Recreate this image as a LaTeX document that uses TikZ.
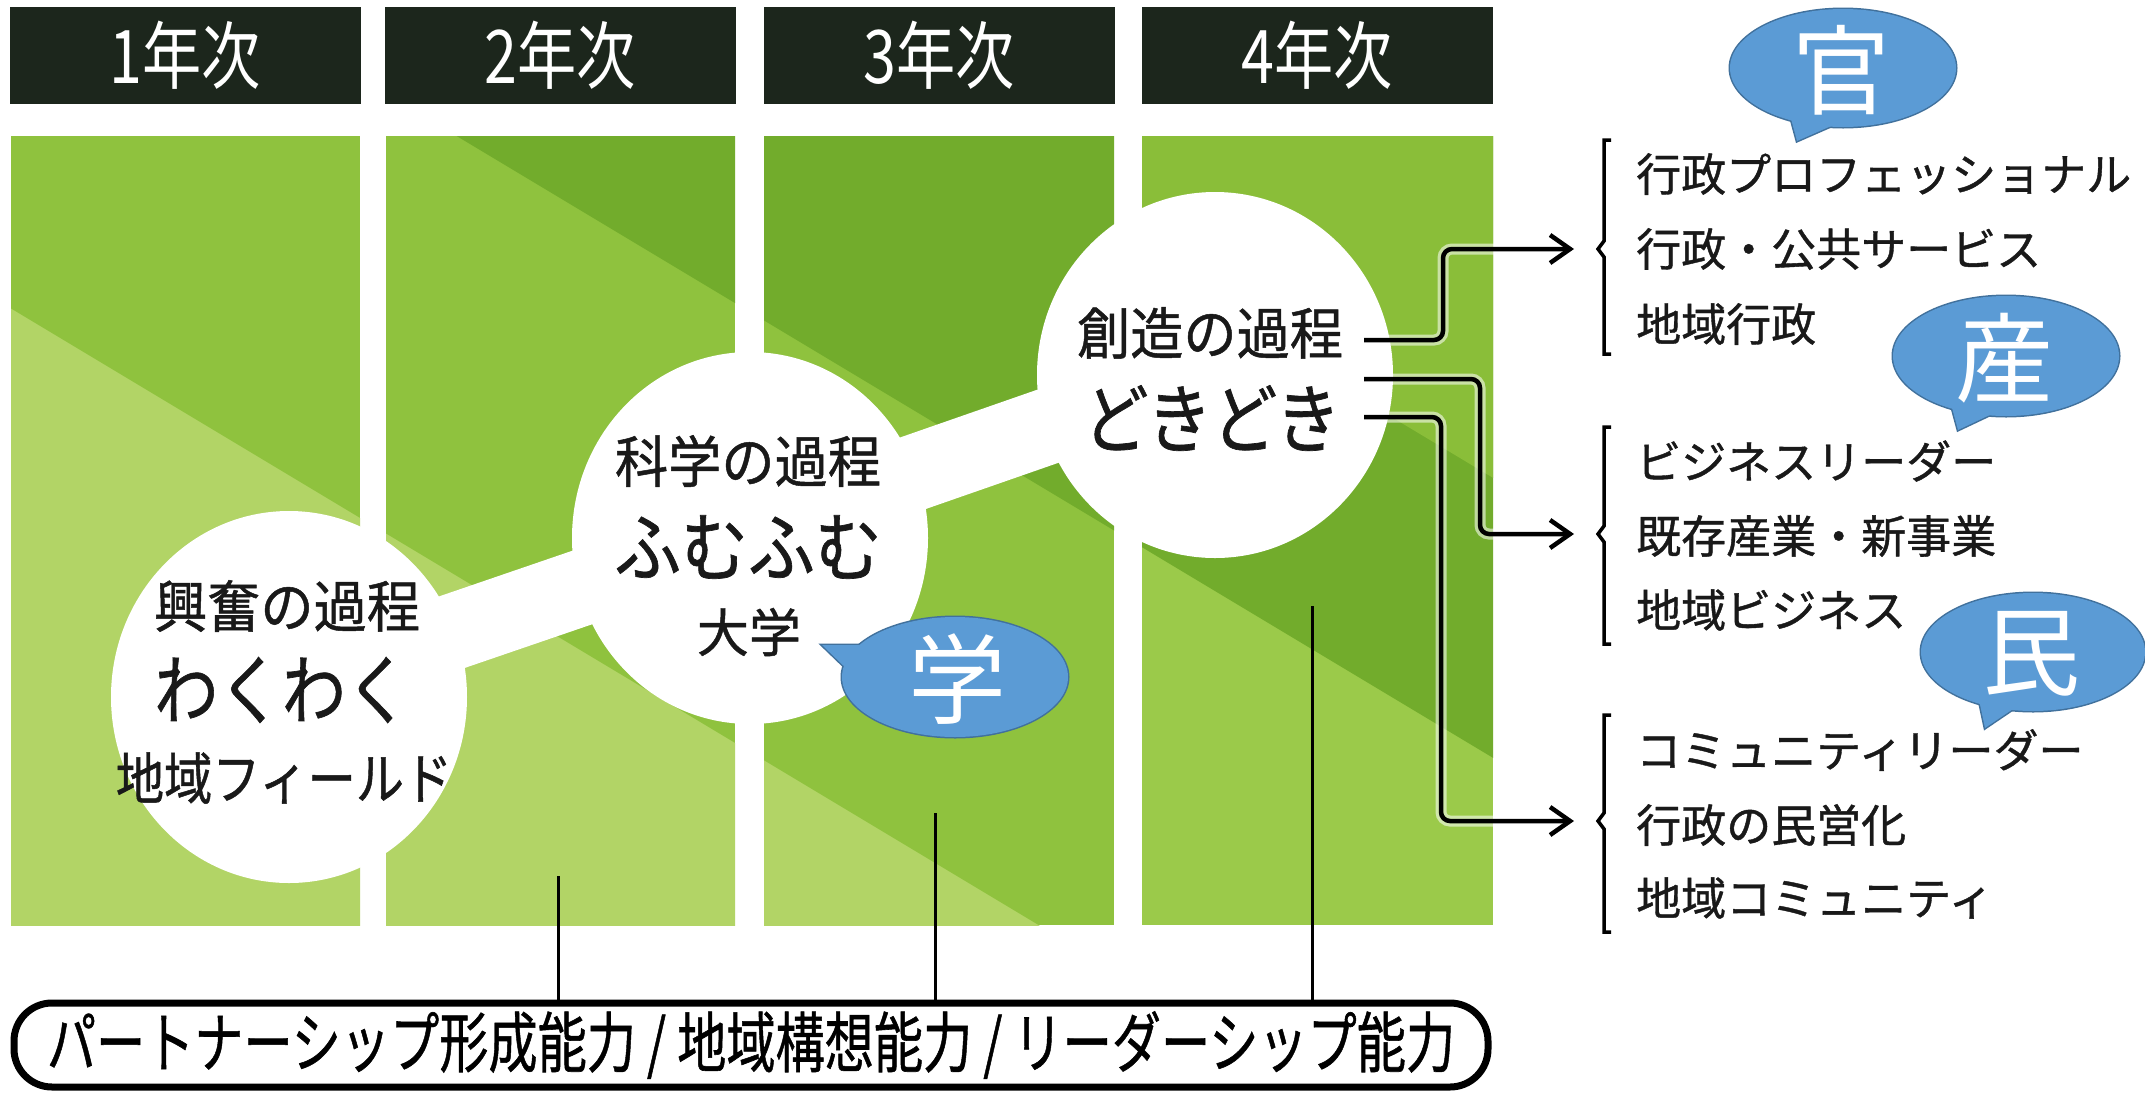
\documentclass[tikz,border=0pt]{standalone}
\usepackage{fontspec}
\usepackage{graphicx}
\newfontfamily\jp{Noto Sans CJK JP}
\newfontfamily\jpm[FakeBold=0.9]{Noto Sans CJK JP}
\usetikzlibrary{arrows.meta,shapes.geometric}
\definecolor{tL}{HTML}{B2D466}
\definecolor{tM}{HTML}{8FC23E}
\definecolor{tD}{HTML}{72AC2C}
\definecolor{pfT}{HTML}{8ABE39}
\definecolor{pfB}{HTML}{9BCA4A}
\definecolor{hdr}{HTML}{1C261C}
\definecolor{bbl}{HTML}{5B9BD5}
\definecolor{bbd}{HTML}{41719C}
\tikzset{
  hdrbox/.style={fill=hdr, minimum width=351, minimum height=97, inner sep=0, text=white,
     font=\jp\fontsize{74}{76}\selectfont},
  bubbg/.style={draw=bbd, line width=3},
  bubtxt/.style={text=white, inner sep=0, font=\jp\fontsize{98}{100}\selectfont},
  circ/.style={ellipse, fill=white, minimum width=356, minimum height=372, inner sep=0},
  head/.style={inner sep=0, text=black!90, font=\jpm\fontsize{56}{58}\selectfont},
  big/.style={inner sep=0, text=black!90, font=\jpm\fontsize{76}{78}\selectfont},
  lst/.style={inner sep=0, anchor=west, text=black!90, font=\jpm\fontsize{45}{47}\selectfont},
  conn/.style={line width=4.5, rounded corners=9, -{Straight Barb[length=20pt,width=28pt]}},
  halo/.style={line width=11, white, opacity=0.55, rounded corners=9},
  brk/.style={line width=3.5},
  vline/.style={line width=3},
}
\begin{document}
\begin{tikzpicture}[x=1pt,y=-1pt]
\useasboundingbox (0,0) rectangle (2145,1096);
\fill[white] (0,0) rectangle (2145,1096);

% ---------- header boxes ----------
\node[hdrbox] (h1) at (185.5,55) {\scalebox{0.8}[1]{1年次}};
\node[hdrbox] (h2) at (560.5,55) {\scalebox{0.8}[1]{2年次}};
\node[hdrbox] (h3) at (939,55) {\scalebox{0.8}[1]{3年次}};
\node[hdrbox] (h4) at (1317.5,55) {\scalebox{0.8}[1]{4年次}};

% ---------- panels ----------
\begin{scope}
  \clip (11,136) rectangle (360,925);
  \fill[tM] (11,136) rectangle (360,925);
  \fill[tL] (0,302) -- (2145,1589) -- (2145,1700) -- (0,1700) -- cycle;
\end{scope}
\begin{scope}
  \clip (386,136) rectangle (735,925);
  \fill[tM] (386,136) rectangle (735,925);
  \fill[tD] (0,-138) -- (2145,1149) -- (2145,-300) -- (0,-300) -- cycle;
  \fill[tL] (0,302) -- (2145,1589) -- (2145,1700) -- (0,1700) -- cycle;
\end{scope}
\begin{scope}
  \clip (764,136) rectangle (1114,925);
  \fill[tM] (764,136) rectangle (1114,925);
  \fill[tD] (0,-138) -- (2145,1149) -- (2145,-300) -- (0,-300) -- cycle;
  \fill[tL] (0,302) -- (2145,1589) -- (2145,1700) -- (0,1700) -- cycle;
\end{scope}
\begin{scope}
  \clip (1142,136) rectangle (1493,925);
  \fill[pfB] (1142,136) rectangle (1493,925);
  \fill[tD] (0,-138) -- (2145,1149) -- (2145,-600) -- (0,-600) -- cycle;
  \fill[pfT] (0,-418) -- (2145,869) -- (2145,-600) -- (0,-600) -- cycle;
\end{scope}

% ---------- white path with circles ----------
\coordinate (b1) at (289,688);
\coordinate (b2) at (750,530);
\coordinate (b3) at (1215,368);
\draw[white, line width=76] (b1) -- (b2) -- (b3);
\node[circ] (c1) at (289,697) {};
\node[circ] (c2) at (750,538) {};
\node[circ, minimum height=366] (c3) at (1215,375) {};

\node[head] (t1a) at (287,606) {\scalebox{0.95}[1]{興奮の過程}};
\node[big]  (t1b) at (282,690) {\scalebox{0.84}[1]{わくわく}};
\node[head] (t1c) at (284,778) {\scalebox{0.86}[1]{地域フィールド}};
\node[head] (t2a) at (748,461) {\scalebox{0.95}[1]{科学の過程}};
\node[big]  (t2b) at (748,547) {\scalebox{0.88}[1]{ふむふむ}};
\node[inner sep=0, text=black!90, font=\jpm\fontsize{52}{54}\selectfont] (t2c) at (749,632) {大学};
\node[head] (t3a) at (1210,333) {\scalebox{0.95}[1]{創造の過程}};
\node[big]  (t3b) at (1212,418) {\scalebox{0.86}[1]{どきどき}};

% ---------- bottom box ----------
\node[draw=black, line width=7, rounded corners=38, minimum width=1474, minimum height=84,
      inner sep=0, font=\jpm\fontsize{66}{68}\selectfont] (skills) at (751,1045)
      {\scalebox{0.745}[1]{パートナーシップ形成能力 / 地域構想能力 / リーダーシップ能力}};
\coordinate (v1) at (558,876);
\coordinate (v2) at (935,813);
\coordinate (v3) at (1312,606);
\draw[vline] (v1) -- (v1 |- skills.north);
\draw[vline] (v2) -- (v2 |- skills.north);
\draw[vline] (v3) -- (v3 |- skills.north);

% ---------- connectors ----------
\coordinate (k1s) at (1364,340);
\coordinate (k2s) at (1364,379);
\coordinate (k3s) at (1364,417);
\coordinate (k1e) at (1574,249);
\coordinate (k2e) at (1574,534);
\coordinate (k3e) at (1574,821);
\draw[halo] (k1s) -- (1443,340) |- (1500,249);
\draw[halo] (k2s) -- (1480,379) |- (1500,534);
\draw[halo] (k3s) -- (1441,417) |- (1500,821);
\draw[conn] (k1s) -- (1443,340) |- (k1e);
\draw[conn] (k2s) -- (1480,379) |- (k2e);
\draw[conn] (k3s) -- (1441,417) |- (k3e);

% ---------- brackets ----------
\draw[brk] (1611,140) -- (1604,140) -- (1604,241) -- (1598,249) -- (1604,257) -- (1604,354) -- (1611,354);
\draw[brk] (1611,427) -- (1604,427) -- (1604,526) -- (1598,534) -- (1604,542) -- (1604,644) -- (1611,644);
\draw[brk] (1611,715) -- (1604,715) -- (1604,813) -- (1598,821) -- (1604,829) -- (1604,932) -- (1611,932);

% ---------- lists ----------
\node[lst] (g1a) at (1636,174) {行政プロフェッショナル};
\node[lst] (g1b) at (1636,249) {行政・公共サービス};
\node[lst] (g1c) at (1636,324) {地域行政};
\node[lst] (g2a) at (1636,461) {ビジネスリーダー};
\node[lst] (g2b) at (1636,536) {既存産業・新事業};
\node[lst] (g2c) at (1636,610) {地域ビジネス};
\node[lst] (g3a) at (1636,750) {コミュニティリーダー};
\node[lst] (g3b) at (1636,825) {行政の民営化};
\node[lst] (g3c) at (1636,898) {地域コミュニティ};

% ---------- bubbles ----------
% kan
\path[bubbg] (1843,68) ellipse [x radius=113, y radius=59];
\path[bubbg] (1790,115) -- (1797,141) -- (1838,123) -- cycle;
\fill[bbl] (1843,68) ellipse [x radius=113, y radius=59];
\fill[bbl] (1790,115) -- (1797,141) -- (1838,123) -- cycle;
\node[bubtxt] (kan) at (1841,70) {官};
% san
\path[bubbg] (2006,356) ellipse [x radius=113, y radius=60];
\path[bubbg] (1951,404) -- (1958,430) -- (1996,412) -- cycle;
\fill[bbl] (2006,356) ellipse [x radius=113, y radius=60];
\fill[bbl] (1951,404) -- (1958,430) -- (1996,412) -- cycle;
\node[bubtxt] (san) at (2004,358) {産};
% min
\path[bubbg] (2033,652) ellipse [x radius=112, y radius=59];
\path[bubbg] (1979,700) -- (1985,728) -- (2016,707) -- cycle;
\fill[bbl] (2033,652) ellipse [x radius=112, y radius=59];
\fill[bbl] (1979,700) -- (1985,728) -- (2016,707) -- cycle;
\node[bubtxt] (min) at (2031,654) {民};
% gaku
\path[bubbg] (955,677) ellipse [x radius=113, y radius=60];
\path[bubbg] (870,645) -- (822,645) -- (850,672) -- cycle;
\fill[bbl] (955,677) ellipse [x radius=113, y radius=60];
\fill[bbl] (870,645) -- (822,645) -- (850,672) -- cycle;
\node[bubtxt] (gaku) at (957,679) {学};
\end{tikzpicture}
\end{document}
